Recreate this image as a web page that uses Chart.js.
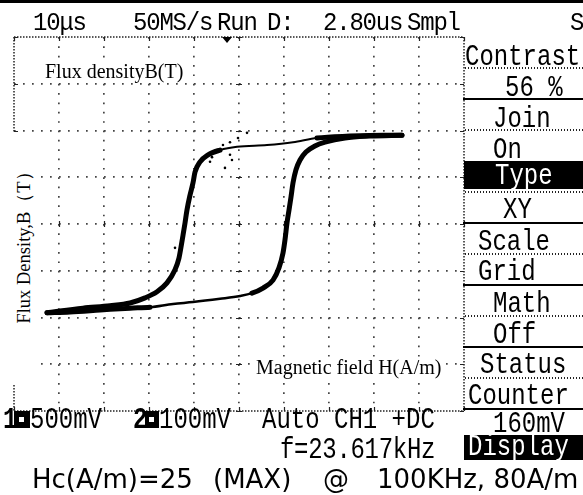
<!DOCTYPE html>
<html><head><meta charset="utf-8">
<script src="https://cdn.jsdelivr.net/npm/chart.js@4.4.1/dist/chart.umd.min.js"></script>
<style>
html,body{margin:0;padding:0;background:#fff;}
#stage{position:relative;width:583px;height:495px;overflow:hidden;background:#fff;}
#c{position:absolute;left:0;top:0;display:block;}
.t{position:absolute;white-space:pre;line-height:1;color:#000;}
.r{position:absolute;}
</style></head>
<body><div id="stage"><canvas id="c" width="583" height="495"></canvas></div>
<script>
// ---- data (XY mode: X = CH1 in mV, Y = CH2 in mV) ----
const upperH = [1811, 1600, 1233, 867, 600, 311, -22, -211, -344, -433, -489, -511, -544, -578, -600, -622, -644, -667, -711, -800, -911, -1044, -1211, -1433, -1733, -1989, -2133];
const upperB = [190, 190, 188, 184, 175, 169, 165, 158, 148, 133, 111, 88, 62, 30, 2, -24, -49, -73, -98, -126, -145, -158, -169, -175, -180, -186, -190];
const lowerH = [-2133, -1878, -1544, -1211, -989, -733, -511, -211, 11, 144, 267, 378, 444, 489, 511, 533, 556, 578, 600, 633, 678, 744, 844, 956, 1178, 1456, 1811];
const lowerB = [-190, -188, -184, -180, -178, -171, -167, -160, -154, -148, -137, -120, -94, -62, -34, 2, 30, 58, 88, 116, 137, 154, 167, 175, 184, 188, 190];
const noiseH = [89, -11, -100, -178, -244, -100, -156, -322, -300, -78, -711];
const noiseB = [195, 184, 175, 169, 158, 148, 120, 133, 143, 137, -51];
const ch1PerDiv = 500;   // mV/div (X)
const ch2PerDiv = 100;   // mV/div (Y)
const xDivs = 10, yDivs = 8;
const triggerH = -133;

const topWords = [["10μs",33],["50MS/s",133],["Run",217],["D:",267],["2.80us",323],["Smpl",407],["S",570]];
const menuItems = [["Contrast",465,65],["56 %",505,96],["Join",493,127],["On",493,158],["Type",495,184,1],["XY",503,218],["Scale",478,250],["Grid",478,280],["Math",493,312],["Off",493,343],["Status",480,373],["Counter",468,404],["160mV",493,432],["Display",468,455,1]];
const solidSeps = [99, 223, 285, 347, 409];
const dottedSeps = [68, 130, 192, 254, 316, 378];

const pts = (xs, ys) => xs.map((v, i) => ({x: v, y: ys[i]}));
const xMax = ch1PerDiv * xDivs / 2, yMax = ch2PerDiv * yDivs / 2;

const frame = {
  id: 'frame',
  beforeDatasetsDraw(chart) {
    const {ctx, chartArea: a, scales: {x, y}} = chart;
    ctx.save();
    ctx.strokeStyle = '#222';
    ctx.lineWidth = 1.5;
    ctx.setLineDash([1.5, 1.5]);
    ctx.beginPath();
    ctx.moveTo(a.left, a.top); ctx.lineTo(a.right, a.top);
    ctx.moveTo(a.left, a.bottom); ctx.lineTo(a.right, a.bottom);
    ctx.moveTo(a.left, a.top); ctx.lineTo(a.left, a.bottom);
    ctx.moveTo(a.right, a.top); ctx.lineTo(a.right, a.bottom);
    ctx.stroke();
    ctx.setLineDash([]);
    ctx.lineWidth = 1.2;
    ctx.beginPath();
    const cx = x.getPixelForValue(0), cy = y.getPixelForValue(0);
    x.ticks.forEach(t => {
      const px = Math.round(x.getPixelForValue(t.value)) + 0.5;
      ctx.moveTo(px, a.top); ctx.lineTo(px, a.top + 4);
      ctx.moveTo(px, a.bottom); ctx.lineTo(px, a.bottom - 4);
      ctx.moveTo(px, cy - 3); ctx.lineTo(px, cy + 3);
    });
    y.ticks.forEach(t => {
      const py = Math.round(y.getPixelForValue(t.value)) + 0.5;
      ctx.moveTo(a.left, py); ctx.lineTo(a.left + 4, py);
      ctx.moveTo(a.right, py); ctx.lineTo(a.right - 4, py);
      ctx.moveTo(cx - 3, py); ctx.lineTo(cx + 3, py);
    });
    ctx.stroke();
    const tx = x.getPixelForValue(triggerH);
    ctx.fillStyle = '#000';
    ctx.beginPath();
    ctx.moveTo(tx - 5, a.top); ctx.lineTo(tx + 5, a.top); ctx.lineTo(tx, a.top + 6); ctx.closePath();
    ctx.fill();
    ctx.restore();
  }
};

const gridColor = (c, lim) => (Math.abs(c.tick.value) >= lim ? 'rgba(0,0,0,0)' : '#444');
const thinW = (lo, hi, thin, thick) => c => {
  const a = c.p0.parsed.x, b = c.p1.parsed.x;
  return (a > lo && a < hi && b > lo && b < hi) ? thin : thick;
};

new Chart(document.getElementById('c'), {
  type: 'scatter',
  data: {datasets: [
    {data: pts(upperH, upperB), showLine: true, borderColor: '#000', borderWidth: 5, pointRadius: 0,
     cubicInterpolationMode: 'monotone', borderJoinStyle: 'round', borderCapStyle: 'round',
     segment: {borderWidth: thinW(-260, 960, 2, 5)}},
    {data: pts(lowerH, lowerB), showLine: true, borderColor: '#000', borderWidth: 5, pointRadius: 0,
     cubicInterpolationMode: 'monotone', borderJoinStyle: 'round', borderCapStyle: 'round',
     segment: {borderWidth: thinW(-1000, 250, 2.5, 5)}},
    {data: pts(noiseH, noiseB), showLine: false, pointRadius: 1.3, backgroundColor: '#000', borderWidth: 0}
  ]},
  options: {
    responsive: false, animation: false, devicePixelRatio: 1,
    layout: {padding: {left: 14, top: 37, right: 119, bottom: 84}},
    plugins: {legend: {display: false}, tooltip: {enabled: false}},
    scales: {
      x: {type: 'linear', min: -xMax, max: xMax,
          ticks: {stepSize: ch1PerDiv, display: false},
          grid: {drawTicks: false, lineWidth: 1.7, color: c => gridColor(c, xMax), borderDash: [1.7, 7.65]},
          border: {display: false, dash: [1.7, 7.65]}},
      y: {type: 'linear', min: -yMax, max: yMax,
          ticks: {stepSize: ch2PerDiv, display: false},
          grid: {drawTicks: false, lineWidth: 1.7, color: c => gridColor(c, yMax), borderDash: [1.7, 7.3]},
          border: {display: false, dash: [1.7, 7.3]}}
    }
  },
  plugins: [frame]
});

// ---- overlay text and panel ----
const stage = document.getElementById('stage');
const mctx = document.createElement('canvas').getContext('2d');
const FAM = {
  mono: "'Liberation Mono', monospace",
  serif: "'Liberation Serif', 'Times New Roman', serif",
  sans: "'DejaVu Sans', sans-serif"
};
function R(x, y, w, h, bg) {
  const d = document.createElement('div');
  d.className = 'r';
  Object.assign(d.style, {left: x + 'px', top: y + 'px', width: w + 'px', height: h + 'px', background: bg});
  stage.appendChild(d); return d;
}
function T(str, x, base, o = {}) {
  const fs = o.fs || 24, fam = o.fam || 'mono';
  const weight = o.bold ? 'bold ' : '';
  mctx.font = weight + fs + 'px ' + FAM[fam];
  const m = mctx.measureText('Hg');
  const fa = m.fontBoundingBoxAscent, fd = m.fontBoundingBoxDescent;
  const b = (fs - (fa + fd)) / 2 + fa;
  const d = document.createElement('div');
  d.className = 't';
  d.textContent = str;
  d.style.fontFamily = FAM[fam];
  d.style.fontSize = fs + 'px';
  d.style.left = x + 'px';
  d.style.top = (base - b) + 'px';
  if (o.ls !== undefined) d.style.letterSpacing = o.ls + 'px';
  if (o.color) d.style.color = o.color;
  if (o.bg) d.style.background = o.bg;
  if (o.bold) d.style.fontWeight = 'bold';
  const sy = o.sy !== undefined ? o.sy : (fam === 'mono' ? 1.2 : 1);
  if (sy !== 1) { d.style.transformOrigin = '0 ' + b + 'px'; d.style.transform = 'scaleY(' + sy + ')'; }
  stage.appendChild(d); return d;
}
const DOT_H = 'repeating-linear-gradient(to right,#222 0 1.5px,transparent 1.5px 3px)';

R(0, 0, 583, 3, '#000');
topWords.forEach(([s, x]) => T(s, x, 30, {ls: -1.2, sy: 1.1}));

// panel
R(464, 161, 119, 28, '#000');
R(464, 435, 119, 25, '#000');
solidSeps.forEach(y => R(463, y - 1, 120, 2, '#000'));
dottedSeps.forEach(y => R(465, y - 1, 118, 1.5, DOT_H));
menuItems.forEach(([s, x, b, inv]) => T(s, x, b, {color: inv ? '#fff' : '#000'}));

// status line
T('1', 3, 428, {bold: true});
R(14, 411, 16, 17, '#000'); R(19, 417, 5, 5, '#fff');
T('500mV', 30, 428);
T('2', 133, 428, {bold: true});
R(145, 411, 14, 17, '#000'); R(149, 417, 5, 5, '#fff');
T('100mV', 159, 428);
T('Auto CH1 +DC', 262, 428);
T('f=23.617kHz', 280, 458, {ls: -0.3});

// annotation labels
T('Flux densityB(T)', 45, 78, {fam: 'serif', fs: 20, bg: '#fff'});
R(0, 133, 40, 252, '#fff');
const rot = T('Flux Density,B（T）', 0, 0, {fam: 'serif', fs: 18.5});
rot.style.left = '24px'; rot.style.top = '243px';
rot.style.transform = 'translate(-50%,-50%) rotate(-90deg)';
T('Magnetic field H(A/m)', 256, 374, {fam: 'serif', fs: 20, bg: '#fff'});

// caption
T('Hc(A/m)=25', 32, 488, {fam: 'sans', fs: 26});
T('(MAX)', 213, 488, {fam: 'sans', fs: 26});
T('@', 323, 488, {fam: 'sans', fs: 26});
T('100KHz, 80A/m', 377, 488, {fam: 'sans', fs: 26});
</script>
</body></html>
